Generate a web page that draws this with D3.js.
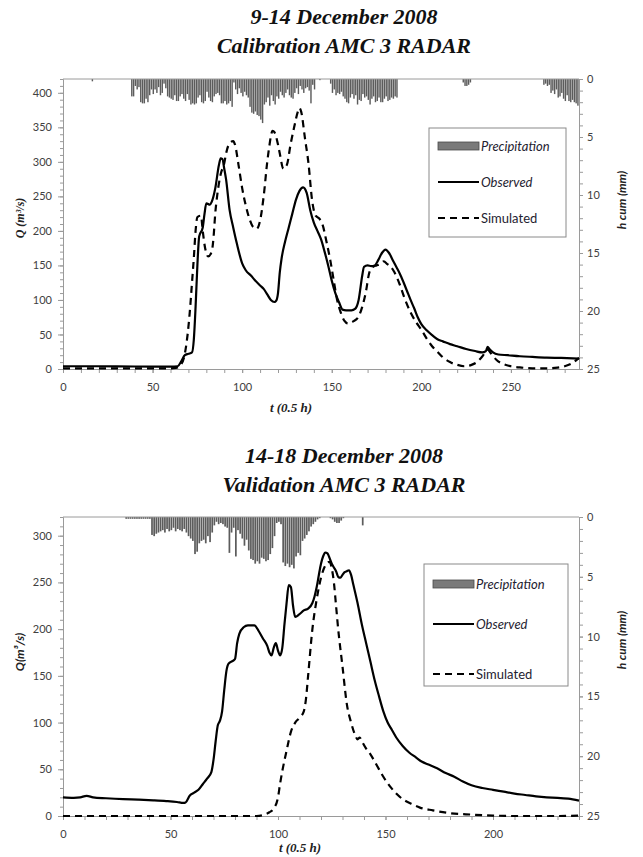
<!DOCTYPE html>
<html>
<head>
<meta charset="utf-8">
<script src="https://cdn.jsdelivr.net/npm/d3@7"></script>
<style>
  body { margin: 0; background: #fff; }
  .tick text { font-family: Lato, "Open Sans", sans-serif; font-size: 11px; fill: #404040; }
  .domain, .tick line { stroke: #9a9a9a; }
</style>
</head>
<body>
<div id="chart"></div>
<script>
// ---- chart 1 : 9-14 December 2008, calibration ----
var rain1 = [
  [16, [0.2]],
  [38, [1.5,1.5,0.6,0.9,0.7,2.0,2.1,2.1,1.7,2.0,1.4,0.9,1.3,0.9,1.2,0.7,1.4,1.2,0.4,0.8,
        1.5,1.6,1.7,1.8,1.4,1.9,1.9,1.5,1.3,1.7,1.9,1.3,1.8,2.2,2.1,2.2,2.1,1.6,1.4,2.0,
        2.1,1.9,1.1,1.6,1.9,2.0,1.5,1.3,1.2,1.4,2.1,2.1,1.9,2.2,2.1,1.9,2.4]],
  [95, [0.3,0.9,1.3,0.8,1.2,1.5,1.1,1.4,1.6,2.4,2.9,3.0,2.8,3.1,3.2,3.5,3.8,2.2,2.0,1.6,
        2.3,1.4,1.9,2.2,1.5,1.7,1.1,1.4,1.6,1.2,0.9,1.4,1.6,1.7,1.2,0.8,1.3,0.6,0.9,1.2,
        0.8,0.7,1.0,2.1,0.5,0.9]],
  [143, [0.1]],
  [149, [0.4,1.2,0.9,1.4,1.2,1.3,1.1,1.5,1.7,2.0,2.1,1.6,1.3,1.7,1.4,2.2,1.8,1.9,1.3,1.6,
         1.5,1.8,2.2,1.7,1.5,2.0,1.9,1.6,2.0,2.0,1.7,1.5,1.9,1.8,1.6,1.7,1.5,1.6]],
  [223, [0.3,0.6,0.6,0.5,0.3]],
  [268, [0.5,0.4,0.6,0.5,1.2,1.0,1.3,0.9,1.6,1.5,1.2,1.7,1.9,1.4,1.9,2.0,1.8,2.0,2.1,2.3]]
];
var observed1 = [
  [0,4],[10,4],[20,4],[30,3.8],[40,3.6],[50,3.5],[60,3.5],[64,4],[66,11],[68,20],[70,22],[72,24],
  [73,42],[74,90],[75,150],[76,192],[78,205],[79,225],[80,240],[82,238],[83,242],[85,262],[87,295],
  [88,305],[89,304],[90,290],[91,275],[93,230],[95,205],[97,182],[100,153],[102,143],[105,135],
  [107,129],[110,121],[112,116],[114,108],[116,100],[118,97],[119,99],[120,110],[121,140],[122,160],
  [124,185],[126,205],[128,225],[130,245],[132,258],[134,263],[136,255],[138,230],[140,212],[142,200],
  [144,188],[146,170],[148,150],[150,128],[152,110],[154,97],[156,86],[158,85],[161,85],[163,87],
  [165,100],[167,135],[168,148],[170,150],[172,149],[174,150],[176,158],[178,168],[180,173],[182,168],
  [184,158],[186,148],[188,138],[190,126],[192,113],[194,100],[196,88],[198,75],[200,65],[203,56],
  [206,49],[209,43],[212,40],[216,36],[220,33],[225,29],[230,26],[234,24],[236,26],[237,32],[238,29],
  [240,24],[243,21],[248,20],[255,18.5],[262,17.5],[270,16.5],[278,16],[288,15]
];
var simulated1 = [
  [0,1],[20,1],[40,1],[60,1],[63,1.5],[66,7],[68,22],[70,61],[71,90],[72,125],[73,160],[74,200],
  [75,220],[77,222],[78,200],[79,180],[81,163],[83,170],[84,190],[85,226],[86,250],[88,282],[90,298],
  [91,312],[93,327],[95,330],[96,325],[98,295],[100,262],[102,237],[104,218],[106,206],[108,203],
  [110,215],[112,250],[114,300],[115,320],[117,345],[118,343],[120,325],[121,312],[123,290],[125,296],
  [127,325],[129,350],[131,372],[132,378],[133,372],[135,335],[137,298],[139,245],[141,222],[143,218],
  [145,208],[147,185],[149,160],[151,130],[153,100],[155,82],[157,70],[159,66],[162,69],[165,76],
  [167,90],[169,111],[171,140],[173,148],[175,150],[177,152],[179,156],[181,152],[183,148],[185,140],
  [188,122],[191,100],[194,82],[197,68],[200,57],[203,44],[206,33],[209,25],[212,17],[216,10],[220,6],
  [224,4],[228,6],[231,10],[234,18],[237,28],[239,22],[242,13],[246,7],[250,4],[256,2],[262,1],
  [270,1],[276,2],[280,4],[284,8],[288,16]
];

// ---- chart 2 : 14-18 December 2008, validation ----
var rain2 = [
  [29, [0.15,0.15,0.15,0.15,0.15,0.15,0.15,0.15,0.15,0.15,0.15,0.15]],
  [41, [1.5,1.6,1.4,1.3,1.2,1.1,1.3,1.0,1.2,1.1,0.9,1.2,1.0,1.1,1.2,1.0,1.3,1.6,1.8,2.0,
        3.1,2.9,2.2,2.0,1.9,2.2,1.6,2.1,1.3,0.7,0.4,0.6,0.5,0.6,0.8,0.9,3.0,1.3,0.9,3.3,
        1.1,1.4,1.8,2.4,1.9,2.8,3.5,3.6,3.9,3.7,3.9,3.4,3.5,3.7,3.6,3.1,2.6,1.6,0.5,0.4,
        0.6,3.8,4.1,3.9,4.2,4.0,4.3,3.3,3.0,3.2,2.0,1.8,1.5,1.2,0.8,0.6,0.4,0.2,0.1]],
  [124, [0.1,0.2,0.4,0.5,0.5,0.3,0.1]],
  [139, [0.7]]
];
var observed2 = [
  [0,20],[5,19.5],[8,20],[11,21.5],[14,20],[20,19],[28,18],[35,17.5],[42,16.8],[48,16],[53,15],
  [56,14],[57,14.5],[59,22],[61,25],[63,28],[65,34],[67,40],[69,47],[70,60],[71,80],[72,97],[73,102],
  [74,112],[75,135],[76,155],[77,163],[79,166],[80,168],[81,185],[82,195],[84,202],[86,204],[89,204],
  [91,198],[93,190],[95,182],[96,175],[97,172],[98,180],[99,185],[100,177],[101,172],[102,180],
  [103,205],[104,228],[105,247],[106,245],[107,225],[108,213],[110,216],[112,220],[114,222],[116,228],
  [117,235],[118,245],[119,258],[120,270],[121,278],[122,282],[123,281],[124,276],[125,270],[126,266],
  [127,262],[128,256],[129,255],[130,258],[131,261],[132,262],[133,263],[134,258],[135,248],[137,228],
  [139,205],[141,185],[143,165],[145,145],[147,128],[149,112],[151,100],[153,92],[155,84],[158,75],
  [161,68],[164,63],[167,58],[170,55],[174,51],[178,46],[182,42],[186,37],[190,33],[195,30],[200,28],
  [205,26],[210,24],[215,22.5],[220,21],[225,20],[230,19.5],[235,18.5],[240,16.5]
];
var simulated2 = [
  [0,0],[90,0],[93,1],[96,4],[98,8],[100,20],[101,35],[102,48],[104,70],[106,90],[108,100],[110,105],
  [112,112],[113,125],[114,150],[116,200],[118,232],[120,255],[122,268],[124,272],[125,265],[126,250],
  [127,225],[128,200],[130,160],[132,120],[134,100],[136,86],[137,82],[138,84],[139,80],[141,72],
  [143,66],[146,54],[149,42],[152,32],[155,24],[158,18],[162,13],[166,9],[172,6],[180,3],[190,1.5],
  [200,0.5],[210,0],[230,0],[240,0.5]
];

var titles1 = ["9-14 December 2008", "Calibration AMC 3 RADAR"];
var titles2 = ["14-18 December 2008", "Validation AMC 3 RADAR"];
var legendNames = ["Precipitation", "Observed", "Simulated"];

var svg = d3.select("#chart").append("svg")
  .attr("width", 643)
  .attr("height", 857)

drawChart({
  top: 79, bottom: 369, left: 63, right: 579,
  tMax: 288, qMax: 420, qTicks: d3.range(0, 401, 50),
  rain: rain1, obs: observed1, sim: simulated1,
  titles: titles1, titleY: [24, 53],
  qLabel: "Q (m³/s)", qLabelY: 218, qLabelFont: "'Liberation Serif', serif",
  hLabelY: 200, tLabelX: 291, tLabelY: 412,
  legend: {x: 429, y: 128, w: 137, h: 109, rows: [146, 182, 218]}
});

drawChart({
  top: 517, bottom: 816, left: 63, right: 579,
  tMax: 240, qMax: 320, qTicks: d3.range(0, 301, 50),
  rain: rain2, obs: observed2, sim: simulated2,
  titles: titles2, titleY: [463, 492],
  qLabel: "Q(m³/s)", qLabelY: 652, qLabelFont: "Lato, sans-serif",
  hLabelY: 640, tLabelX: 300, tLabelY: 852,
  legend: {x: 424, y: 564, w: 144, h: 122, rows: [584, 624, 674]}
});

function drawChart(c) {
  var x = d3.scaleLinear().domain([0, c.tMax]).range([c.left, c.right]);
  var yQ = d3.scaleLinear().domain([0, c.qMax]).range([c.bottom, c.top]);
  var yH = d3.scaleLinear().domain([0, 25]).range([c.top, c.bottom]);

  var g = svg.append("g");

  // titles
  g.selectAll(".title")
    .data(c.titles)
    .enter()
    .append("text")
    .attr("x", 344)
    .attr("y", function(d, i){ return c.titleY[i]; })
    .attr("text-anchor", "middle")
    .style("font-family", "'Liberation Serif', 'Times New Roman', serif")
    .style("font-weight", "bold")
    .style("font-style", "italic")
    .style("font-size", "22px")
    .style("fill", "#111")
    .text(function(d){ return d; })

  // precipitation bars hanging from the top
  var bars = [];
  c.rain.forEach(function(seg){
    seg[1].forEach(function(v, i){ bars.push({t: seg[0] + i, v: v}); });
  });
  var step = x(1) - x(0);
  g.append("g")
    .selectAll("rect")
    .data(bars)
    .enter()
    .append("rect")
    .attr("x", function(d){ return x(d.t); })
    .attr("y", c.top)
    .attr("width", step * 0.8)
    .attr("height", function(d){ return yH(d.v) - c.top; })
    .attr("fill", "#5c5c5c")

  // axes
  g.append("g")
    .attr("transform", "translate(" + c.left + ",0)")
    .call(d3.axisLeft(yQ).tickValues(d3.range(0, c.qMax + 1, 10)).tickSize(3).tickSizeOuter(0).tickFormat(""))
  g.append("g")
    .attr("transform", "translate(" + c.left + ",0)")
    .call(d3.axisLeft(yQ).tickValues(c.qTicks).tickSize(5).tickPadding(6).tickSizeOuter(0))

  g.append("g")
    .attr("transform", "translate(" + c.right + ",0)")
    .call(d3.axisRight(yH).tickValues(d3.range(0, 26, 1)).tickSize(4).tickSizeOuter(0).tickFormat(""))
  g.append("g")
    .attr("transform", "translate(" + c.right + ",0)")
    .call(d3.axisRight(yH).tickValues(d3.range(0, 26, 5)).tickSize(4).tickPadding(4).tickSizeOuter(0))

  g.append("g")
    .attr("transform", "translate(0," + c.bottom + ")")
    .call(d3.axisBottom(x).tickValues(d3.range(0, c.tMax + 1, 10)).tickSize(4).tickSizeOuter(0).tickFormat(""))
  g.append("g")
    .attr("transform", "translate(0," + c.bottom + ")")
    .call(d3.axisBottom(x).tickValues(d3.range(0, c.tMax + 1, 50)).tickSize(4).tickPadding(10).tickSizeOuter(0))

  g.append("line")
    .attr("x1", c.left).attr("x2", c.right)
    .attr("y1", c.top).attr("y2", c.top)
    .attr("stroke", "#9a9a9a")

  // discharge lines
  var line = d3.line()
    .x(function(d){ return x(d[0]); })
    .y(function(d){ return yQ(d[1]); })
    .curve(d3.curveMonotoneX)

  g.append("path")
    .attr("d", line(c.obs))
    .attr("fill", "none")
    .attr("stroke", "#000")
    .attr("stroke-width", 2.2)

  g.append("path")
    .attr("d", line(c.sim))
    .attr("fill", "none")
    .attr("stroke", "#000")
    .attr("stroke-width", 2.2)
    .attr("stroke-dasharray", "7,5")

  // axis titles
  g.append("text")
    .attr("transform", "translate(20," + c.qLabelY + ") rotate(-90)")
    .attr("text-anchor", "middle")
    .attr("dy", "0.35em")
    .style("font-family", c.qLabelFont)
    .style("font-weight", "bold")
    .style("font-style", "italic")
    .style("font-size", "12px")
    .style("fill", "#222")
    .text(c.qLabel)

  g.append("text")
    .attr("transform", "translate(622," + c.hLabelY + ") rotate(-90)")
    .attr("text-anchor", "middle")
    .attr("dy", "0.35em")
    .style("font-family", "Lato, sans-serif")
    .style("font-weight", "bold")
    .style("font-style", "italic")
    .style("font-size", "12px")
    .style("fill", "#222")
    .text("h cum (mm)")

  g.append("text")
    .attr("x", c.tLabelX)
    .attr("y", c.tLabelY)
    .attr("text-anchor", "middle")
    .style("font-family", "'Liberation Serif', serif")
    .style("font-weight", "bold")
    .style("font-style", "italic")
    .style("font-size", "13px")
    .style("fill", "#222")
    .text("t (0.5 h)")

  // legend
  var L = c.legend;
  var lg = g.append("g");
  lg.append("rect")
    .attr("x", L.x).attr("y", L.y)
    .attr("width", L.w).attr("height", L.h)
    .attr("fill", "#fff")
    .attr("stroke", "#8a8a8a")

  lg.append("rect")
    .attr("x", L.x + 9).attr("y", L.rows[0] - 4)
    .attr("width", 41).attr("height", 8)
    .attr("fill", "#7a7a7a")
    .attr("stroke", "#4a4a4a")
    .attr("stroke-width", 0.8)
  lg.append("line")
    .attr("x1", L.x + 9).attr("x2", L.x + 50)
    .attr("y1", L.rows[1]).attr("y2", L.rows[1])
    .attr("stroke", "#000").attr("stroke-width", 2.2)
  lg.append("line")
    .attr("x1", L.x + 9).attr("x2", L.x + 50)
    .attr("y1", L.rows[2]).attr("y2", L.rows[2])
    .attr("stroke", "#000").attr("stroke-width", 2.2)
    .attr("stroke-dasharray", "7,5")

  lg.selectAll(".ltxt")
    .data(legendNames)
    .enter()
    .append("text")
    .attr("x", L.x + 52)
    .attr("y", function(d, i){ return L.rows[i]; })
    .attr("dy", "0.35em")
    .style("font-family", "Lato, 'Open Sans', sans-serif")
    .style("font-style", function(d, i){ return i < 2 ? "italic" : "normal"; })
    .style("font-size", "13px")
    .style("fill", "#1e2230")
    .text(function(d){ return d; })
}
</script>
</body>
</html>
